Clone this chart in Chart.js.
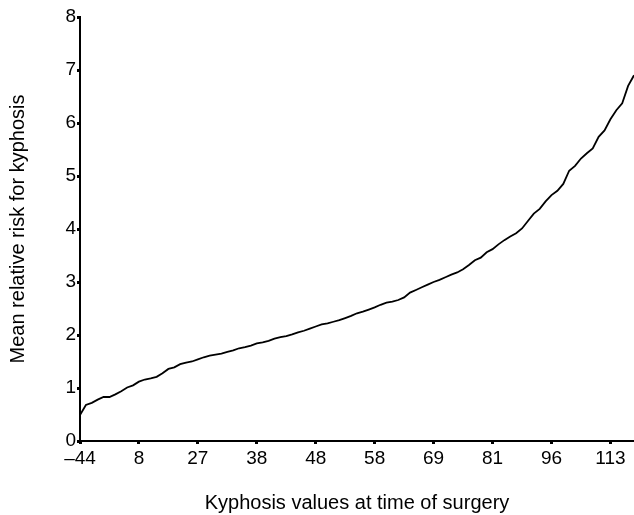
<!DOCTYPE html>
<html>
<head>
<meta charset="utf-8">
<script src="https://cdn.jsdelivr.net/npm/chart.js@4"></script>
<style>
  html, body { margin: 0; padding: 0; background: #fff; }
  #wrap { width: 634px; height: 515px; }
</style>
</head>
<body>
<div id="wrap"><canvas id="myChart"></canvas></div>
<script>
// Tick labels on the x axis (kyphosis values, one every 10 ranks)
const tickLabels = ["\u201344", "8", "27", "38", "48", "58", "69", "81", "96", "113"];

// Mean relative risk, one value per rank
const risk = [
  0.49, 0.68, 0.72, 0.78, 0.83, 0.83, 0.88, 0.94, 1.01, 1.05,
  1.12, 1.16, 1.18, 1.21, 1.28, 1.36, 1.39, 1.45, 1.48, 1.50,
  1.54, 1.58, 1.61, 1.63, 1.65, 1.68, 1.71, 1.75, 1.77, 1.80,
  1.84, 1.86, 1.89, 1.93, 1.96, 1.98, 2.01, 2.05, 2.08, 2.12,
  2.16, 2.20, 2.22, 2.25, 2.28, 2.32, 2.36, 2.41, 2.44, 2.48,
  2.52, 2.57, 2.61, 2.63, 2.66, 2.71, 2.80, 2.85, 2.90, 2.95,
  3.00, 3.04, 3.09, 3.14, 3.18, 3.24, 3.32, 3.41, 3.46, 3.56,
  3.62, 3.71, 3.79, 3.86, 3.92, 4.01, 4.15, 4.29, 4.38, 4.52,
  4.64, 4.72, 4.85, 5.10, 5.19, 5.33, 5.43, 5.52, 5.74, 5.86,
  6.07, 6.24, 6.37, 6.70, 6.90
];

const points = risk.map((v, i) => ({ x: i, y: v }));

const family = "'Liberation Sans', Arial, sans-serif";

const axisGrid = {
  display: true,
  drawOnChartArea: false,
  drawTicks: true,
  tickLength: 3,
  tickWidth: 3,
  color: "#000",
};

let ctx = document.getElementById("myChart").getContext("2d");

var myChart = new Chart(ctx, {
  type: "line",
  data: {
    datasets: [
      {
        data: points,
        borderColor: "#000",
        borderWidth: 1.8,
        pointRadius: 0,
        fill: false,
        tension: 0,
      },
    ],
  },
  options: {
    responsive: true,
    maintainAspectRatio: false,
    animation: false,
    layout: { padding: { top: 17, right: 0, bottom: 0, left: 0 } },
    plugins: {
      legend: { display: false },
      tooltip: { enabled: false },
    },
    scales: {
      x: {
        type: "linear",
        min: 0,
        max: 94,
        border: { display: true, color: "#000", width: 2 },
        grid: axisGrid,
        afterBuildTicks: (s) => {
          s.ticks = tickLabels.map((_, i) => ({ value: i * 10 }));
        },
        ticks: {
          color: "#000",
          font: { family: family, size: 19 },
          padding: 3,
          maxRotation: 0,
          autoSkip: false,
          callback: (v) => tickLabels[Math.round(v / 10)],
        },
        title: {
          display: true,
          text: "Kyphosis values at time of surgery",
          color: "#000",
          font: { family: family, size: 20 },
          padding: { top: 0, bottom: 0 },
        },
        afterFit: (s) => { s.height = 74; },
      },
      y: {
        min: 0,
        max: 8,
        border: { display: true, color: "#000", width: 2 },
        grid: axisGrid,
        ticks: {
          stepSize: 1,
          color: "#000",
          font: { family: family, size: 19 },
          padding: 1,
        },
        title: {
          display: true,
          text: "Mean relative risk for kyphosis",
          color: "#000",
          font: { family: family, size: 20 },
          padding: { top: 6, bottom: 6 },
        },
        afterFit: (s) => { s.width = 80; },
      },
    },
  },
});
</script>
</body>
</html>
